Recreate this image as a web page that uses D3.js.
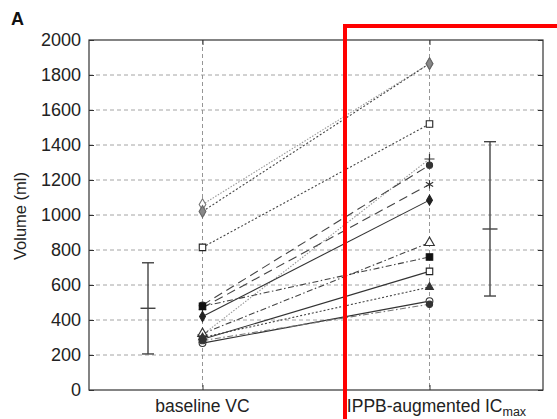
<!DOCTYPE html>
<html>
<head>
<meta charset="utf-8">
<script src="https://cdn.jsdelivr.net/npm/d3@7"></script>
<style>
  html, body { margin: 0; padding: 0; background: #fff; }
  svg { display: block; font-family: "Liberation Sans", Arial, sans-serif; }
</style>
</head>
<body>
<svg id="chart" width="557" height="419"></svg>
<script>
// Paired volumes per subject: baseline VC and IPPB-augmented IC max (ml)
const categories = ["baseline VC", "IPPB-augmented IC"];
const baselineVC = [1060, 1020, 815, 315, 485, 470, 420, 322, 478, 290, 300, 268, 282];
const ippbICmax  = [1865, 1865, 1520, 1320, 1285, 1175, 1085, 842, 760, 678, 588, 508, 490];
const lineStyles = ["dotLight", "dot", "dot", "dotLight", "longDash", "longDash", "solid",
                    "dashDot", "dashDot", "solid", "dot", "solid", "dashDotLight"];
const markers    = ["diamondOpen", "diamondGray", "squareOpen", "plus", "circleFilled", "star",
                    "diamondFilled", "triangleOpen", "squareFilled", "squareOpen", "triangleFilled",
                    "circleOpen", "circleFilled"];
// Group summary: mean with lower/upper whisker (ml)
const errMean  = [467, 920];
const errLow   = [206, 537];
const errHigh  = [727, 1419];
const yTicks   = [0, 200, 400, 600, 800, 1000, 1200, 1400, 1600, 1800, 2000];

const svg = d3.select("#chart");
const L = 89, R = 543, T = 40, B = 390;

const x = d3.scalePoint().domain(categories).range([L, R]).padding(0.5);
const y = d3.scaleLinear().domain([0, 2000]).range([B, T]);

const strokeStyles = {
  solid:        { color: "#333", dash: null,            w: 1.1 },
  dot:          { color: "#444", dash: "2,2",           w: 1.1 },
  dotLight:     { color: "#999", dash: "1.5,1.5",       w: 1.1 },
  longDash:     { color: "#444", dash: "9,5",           w: 1.1 },
  dashDot:      { color: "#444", dash: "6,2.5,1.5,2.5", w: 1.1 },
  dashDotLight: { color: "#777", dash: "6,2.5,1.5,2.5", w: 1.1 }
};

// Grid lines
const grid = svg.append("g");
grid.selectAll("line.h").data(yTicks.filter(t => t > 0 && t < 2000)).join("line")
  .attr("x1", L).attr("x2", R)
  .attr("y1", d => y(d)).attr("y2", d => y(d))
  .attr("stroke", "#9a9a9a").attr("stroke-width", 0.9).attr("stroke-dasharray", "4,3");
grid.selectAll("line.v").data(categories).join("line")
  .attr("x1", d => x(d)).attr("x2", d => x(d))
  .attr("y1", T).attr("y2", B)
  .attr("stroke", "#8a8a8a").attr("stroke-width", 0.9).attr("stroke-dasharray", "4,3");

// Axes (inward ticks on all sides)
const axL = svg.append("g").attr("transform", `translate(${L},0)`)
  .call(d3.axisLeft(y).tickValues(yTicks).tickFormat(d3.format("d"))
    .tickSizeInner(-5).tickSizeOuter(0).tickPadding(8));
axL.selectAll("text").attr("font-size", 18).attr("fill", "#222");
const axR = svg.append("g").attr("transform", `translate(${R},0)`)
  .call(d3.axisRight(y).tickValues(yTicks).tickSizeInner(-5).tickSizeOuter(0).tickFormat(""));
const axB = svg.append("g").attr("transform", `translate(0,${B})`)
  .call(d3.axisBottom(x).tickSizeInner(-5).tickSizeOuter(0).tickFormat(""));
const axT = svg.append("g").attr("transform", `translate(0,${T})`)
  .call(d3.axisTop(x).tickSizeInner(-5).tickSizeOuter(0).tickFormat(""));
[axL, axR, axB, axT].forEach(a => {
  a.selectAll(".domain").remove();
  a.selectAll(".tick line").attr("stroke", "#333");
});
svg.append("rect").attr("x", L).attr("y", T).attr("width", R - L).attr("height", B - T)
  .attr("fill", "none").attr("stroke", "#333").attr("stroke-width", 1.2);

// Subject lines
const subjects = baselineVC.map((b, i) => ({ b, a: ippbICmax[i], s: lineStyles[i], m: markers[i] }));
svg.append("g").selectAll("line").data(subjects).join("line")
  .attr("x1", x(categories[0])).attr("y1", d => y(d.b))
  .attr("x2", x(categories[1])).attr("y2", d => y(d.a))
  .attr("stroke", d => strokeStyles[d.s].color)
  .attr("stroke-width", d => strokeStyles[d.s].w)
  .attr("stroke-dasharray", d => strokeStyles[d.s].dash);

// Markers
const symMap = {
  diamondOpen:    { t: d3.symbolDiamond,  fill: "#fff", stroke: "#777", size: 38 },
  diamondGray:    { t: d3.symbolDiamond,  fill: "#888", stroke: "#666", size: 40 },
  diamondFilled:  { t: d3.symbolDiamond,  fill: "#222", stroke: "#222", size: 30 },
  squareOpen:     { t: d3.symbolSquare,   fill: "#fff", stroke: "#222", size: 42 },
  squareFilled:   { t: d3.symbolSquare,   fill: "#111", stroke: "#111", size: 42 },
  circleOpen:     { t: d3.symbolCircle,   fill: "#fff", stroke: "#333", size: 36 },
  circleFilled:   { t: d3.symbolCircle,   fill: "#333", stroke: "#333", size: 30 },
  triangleOpen:   { t: d3.symbolTriangle, fill: "#fff", stroke: "#333", size: 40 },
  triangleFilled: { t: d3.symbolTriangle, fill: "#333", stroke: "#333", size: 26 },
  plus:           { t: d3.symbolCross,    fill: "none", stroke: "#333", size: 0, cross: true },
  star:           { t: d3.symbolAsterisk, fill: "none", stroke: "#333", size: 50 }
};
const pts = [];
subjects.forEach(d => {
  pts.push({ cx: x(categories[0]), cy: y(d.b), m: d.m });
  pts.push({ cx: x(categories[1]), cy: y(d.a), m: d.m });
});
const mg = svg.append("g");
pts.forEach(p => {
  const s = symMap[p.m];
  if (s.cross) {
    mg.append("path")
      .attr("d", `M${p.cx - 5},${p.cy}H${p.cx + 5}M${p.cx},${p.cy - 5}V${p.cy + 5}`)
      .attr("stroke", s.stroke).attr("stroke-width", 1.2).attr("fill", "none");
  } else {
    mg.append("path")
      .attr("transform", `translate(${p.cx},${p.cy})`)
      .attr("d", d3.symbol().type(s.t).size(s.size)())
      .attr("fill", s.fill).attr("stroke", s.stroke).attr("stroke-width", 1.1);
  }
});

// Mean and whiskers
const errX = [148, 490];
const eg = svg.append("g").attr("stroke", "#444").attr("stroke-width", 1.4);
errMean.forEach((m, i) => {
  const cx = errX[i];
  eg.append("line").attr("x1", cx).attr("x2", cx).attr("y1", y(errHigh[i])).attr("y2", y(errLow[i]));
  eg.append("line").attr("x1", cx - 6).attr("x2", cx + 6).attr("y1", y(errHigh[i])).attr("y2", y(errHigh[i]));
  eg.append("line").attr("x1", cx - 6).attr("x2", cx + 6).attr("y1", y(errLow[i])).attr("y2", y(errLow[i]));
  eg.append("line").attr("x1", cx - 7.5).attr("x2", cx + 7.5).attr("y1", y(m)).attr("y2", y(m));
});

// Category labels
svg.append("text").attr("x", x(categories[0])).attr("y", 412)
  .attr("text-anchor", "middle").attr("font-size", 17.5).attr("fill", "#222")
  .text("baseline VC");
const lab2 = svg.append("text").attr("x", x(categories[1]) + 7).attr("y", 412)
  .attr("text-anchor", "middle").attr("font-size", 17.5).attr("fill", "#222");
lab2.append("tspan").text("IPPB-augmented IC");
lab2.append("tspan").attr("dy", 4).attr("font-size", 12.5).text("max");

// Y axis title
svg.append("text").attr("transform", "translate(26,216) rotate(-90)")
  .attr("text-anchor", "middle").attr("font-size", 16.5).attr("fill", "#222")
  .text("Volume (ml)");

// Panel letter
svg.append("text").attr("x", 11).attr("y", 25).attr("font-size", 18)
  .attr("font-weight", "bold").attr("fill", "#111").text("A");

// Highlight frame
svg.append("rect").attr("x", 345).attr("y", 26).attr("width", 300).attr("height", 500)
  .attr("fill", "none").attr("stroke", "#ff0000").attr("stroke-width", 4);
</script>
</body>
</html>
